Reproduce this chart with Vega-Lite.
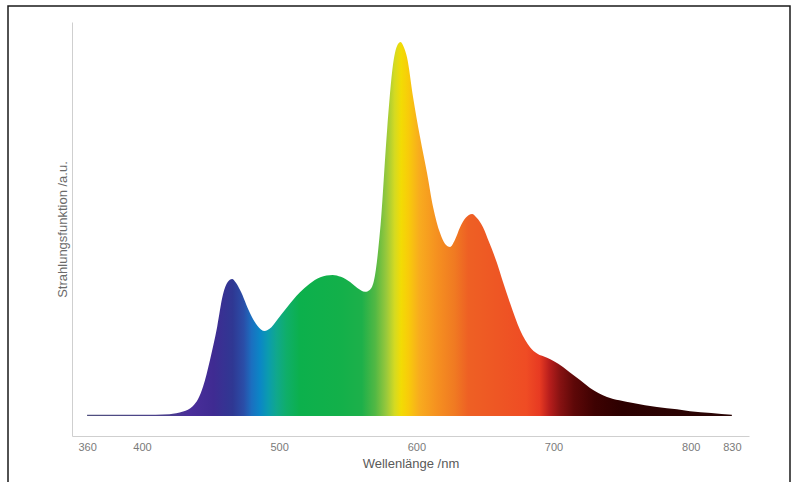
{
  "$schema": "https://vega.github.io/schema/vega-lite/v6.json",
  "width": 782,
  "height": 478,
  "autosize": {"type": "none"},
  "padding": {"left": 8, "top": 6, "right": 10, "bottom": 0},
  "background": "#ffffff",
  "config": {
    "view": {"stroke": "#1a1a1a", "strokeWidth": 1.5},
    "axis": {"grid": false, "ticks": false, "tickSize": 0, "labelFont": "Liberation Sans", "titleFont": "Liberation Sans", "titleFontWeight": "normal", "domainColor": "#cfcfcf", "domainWidth": 1}
  },
  "data": {
    "values": [
      {"wl": 360, "v": 0.3}, {"wl": 380, "v": 0.3}, {"wl": 400, "v": 0.3}, {"wl": 410, "v": 0.35},
      {"wl": 420, "v": 0.45}, {"wl": 425, "v": 0.7}, {"wl": 430, "v": 1.2}, {"wl": 437, "v": 2.6},
      {"wl": 441, "v": 4.6}, {"wl": 444.5, "v": 7.8}, {"wl": 449.6, "v": 15}, {"wl": 454.8, "v": 23.8},
      {"wl": 459, "v": 32.4}, {"wl": 462.5, "v": 35.8}, {"wl": 465.7, "v": 36.6}, {"wl": 468.5, "v": 35.6},
      {"wl": 471.5, "v": 33.7}, {"wl": 478.8, "v": 27.5}, {"wl": 484, "v": 24.2}, {"wl": 489.5, "v": 22.7},
      {"wl": 493, "v": 23.3}, {"wl": 498.5, "v": 25.7}, {"wl": 505.8, "v": 29.1}, {"wl": 515, "v": 33},
      {"wl": 522, "v": 35.3}, {"wl": 530, "v": 37.1}, {"wl": 539, "v": 37.7}, {"wl": 545, "v": 37.2},
      {"wl": 551.7, "v": 35.8}, {"wl": 557, "v": 34.2}, {"wl": 562.6, "v": 33.2}, {"wl": 566, "v": 33.7},
      {"wl": 569, "v": 36}, {"wl": 573.6, "v": 49.7}, {"wl": 578.7, "v": 76.5}, {"wl": 583, "v": 94},
      {"wl": 586, "v": 99}, {"wl": 588.5, "v": 100}, {"wl": 591, "v": 98.5}, {"wl": 593.2, "v": 95.9},
      {"wl": 597.6, "v": 85.3}, {"wl": 602.7, "v": 74.6}, {"wl": 607.8, "v": 65}, {"wl": 612.2, "v": 55.9},
      {"wl": 617.3, "v": 48.9}, {"wl": 621, "v": 46}, {"wl": 624.6, "v": 45.2}, {"wl": 628, "v": 47},
      {"wl": 631.9, "v": 50.5}, {"wl": 636, "v": 53}, {"wl": 640.6, "v": 54}, {"wl": 644, "v": 53},
      {"wl": 648.6, "v": 50.5}, {"wl": 653, "v": 46.5}, {"wl": 658.8, "v": 40.9}, {"wl": 663, "v": 36},
      {"wl": 668.3, "v": 30.2}, {"wl": 675.6, "v": 23}, {"wl": 682.9, "v": 18.4}, {"wl": 688, "v": 16.7},
      {"wl": 695.3, "v": 15.6}, {"wl": 700, "v": 14.7}, {"wl": 706.9, "v": 13.1}, {"wl": 712, "v": 11.6},
      {"wl": 719.3, "v": 9.6}, {"wl": 726.6, "v": 7.5}, {"wl": 733, "v": 6.1}, {"wl": 739, "v": 5.1},
      {"wl": 748, "v": 4.2}, {"wl": 758, "v": 3.5}, {"wl": 775.4, "v": 2.4}, {"wl": 790, "v": 1.8},
      {"wl": 799.5, "v": 1.3}, {"wl": 815, "v": 0.8}, {"wl": 830, "v": 0.3}
    ]
  },
  "mark": {
    "type": "area",
    "interpolate": "monotone",
    "opacity": 1,
    "color": {
      "gradient": "linear",
      "x1": 0, "y1": 0, "x2": 1, "y2": 0,
      "stops": [
        {"offset": 0, "color": "#50507e"},
        {"offset": 0.128, "color": "#4a3e8e"},
        {"offset": 0.16, "color": "#4a2e9a"},
        {"offset": 0.196, "color": "#3f2b92"},
        {"offset": 0.226, "color": "#2f3893"},
        {"offset": 0.243, "color": "#2a4ea8"},
        {"offset": 0.255, "color": "#1b6fc0"},
        {"offset": 0.268, "color": "#0b86c6"},
        {"offset": 0.281, "color": "#0b9cae"},
        {"offset": 0.294, "color": "#10a88c"},
        {"offset": 0.309, "color": "#0fae6a"},
        {"offset": 0.33, "color": "#0cb04c"},
        {"offset": 0.394, "color": "#13b04a"},
        {"offset": 0.426, "color": "#1db04a"},
        {"offset": 0.447, "color": "#52b844"},
        {"offset": 0.464, "color": "#98c83c"},
        {"offset": 0.477, "color": "#d4da22"},
        {"offset": 0.487, "color": "#f2dc04"},
        {"offset": 0.498, "color": "#f8cc0a"},
        {"offset": 0.515, "color": "#f8ac1e"},
        {"offset": 0.543, "color": "#f59020"},
        {"offset": 0.57, "color": "#f07a22"},
        {"offset": 0.591, "color": "#ee6024"},
        {"offset": 0.638, "color": "#ee5624"},
        {"offset": 0.681, "color": "#ef4c24"},
        {"offset": 0.702, "color": "#e73a22"},
        {"offset": 0.717, "color": "#b81e1c"},
        {"offset": 0.734, "color": "#861212"},
        {"offset": 0.755, "color": "#5e0808"},
        {"offset": 0.787, "color": "#3e0202"},
        {"offset": 0.83, "color": "#2c0000"},
        {"offset": 1, "color": "#2a0606"}
      ]
    }
  },
  "encoding": {
    "x": {
      "field": "wl",
      "type": "quantitative",
      "scale": {"domain": [349, 842.5], "range": [64, 741], "nice": false, "zero": false},
      "axis": {
        "title": "Wellenlänge /nm",
        "values": [360, 400, 500, 600, 700, 800, 830],
        "offset": -48,
        "labelFontSize": 11,
        "labelColor": "#7a7a7a",
        "labelPadding": 5,
        "titleFontSize": 13,
        "titleColor": "#5a5a5a",
        "titlePadding": 5
      }
    },
    "y": {
      "field": "v",
      "type": "quantitative",
      "scale": {"domain": [-5.35, 105.35], "range": [430, 16], "nice": false, "zero": false},
      "axis": {
        "title": "Strahlungsfunktion /a.u.",
        "labels": false,
        "offset": -64,
        "titleFontSize": 13,
        "titleColor": "#6a6a6a",
        "titlePadding": 3
      }
    }
  }
}
